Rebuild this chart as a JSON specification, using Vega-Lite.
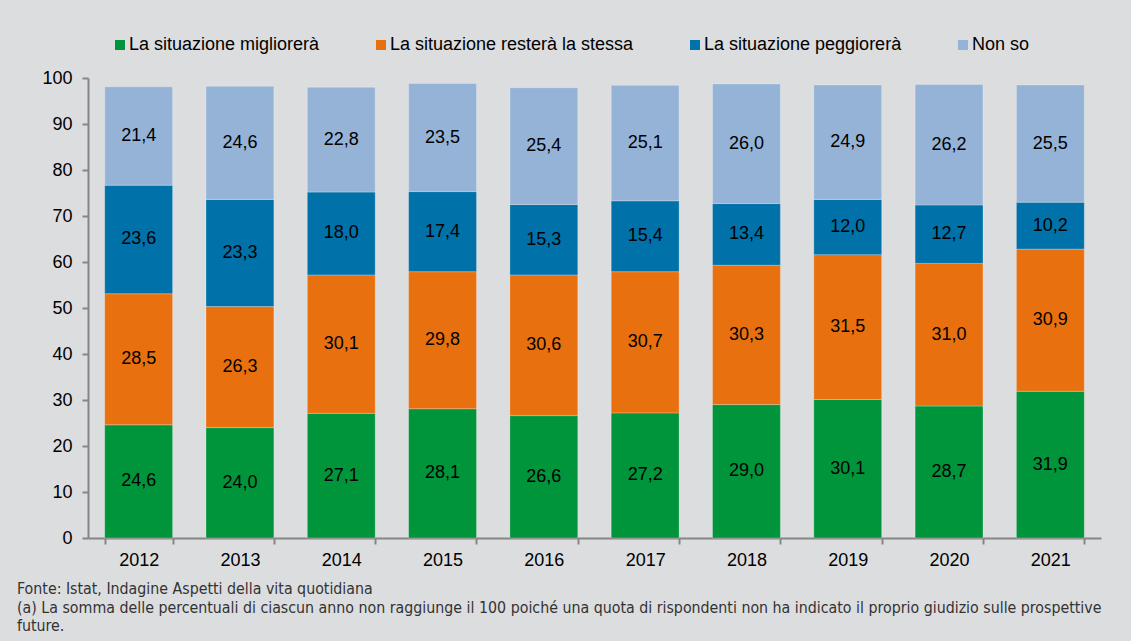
{
  "$schema": "https://vega.github.io/schema/vega-lite/v6.json",
  "width": 1013,
  "height": 460,
  "autosize": {"type": "none"},
  "padding": {"left": 88, "top": 78, "right": 30, "bottom": 103},
  "background": "#DCDDDF",
  "config": {
    "view": {"stroke": null},
    "font": "Liberation Sans",
    "locale": {"number": {"decimal": ",", "thousands": ".", "grouping": [3], "currency": ["", " €"]}}
  },
  "title": {
    "text": [
      "Fonte: Istat, Indagine Aspetti della vita quotidiana",
      "(a) La somma delle percentuali di ciascun anno non raggiunge il 100 poiché una quota di rispondenti non ha indicato il proprio giudizio sulle prospettive",
      "\u00a0\u00a0\u00a0\u00a0\u00a0\u00a0future."
    ],
    "orient": "bottom",
    "anchor": "start",
    "frame": "group",
    "dx": -71,
    "offset": 13,
    "font": "DejaVu Sans Condensed",
    "fontSize": 15.8,
    "fontWeight": "normal",
    "color": "#333333",
    "lineHeight": 18.5
  },
  "data": {
    "values": [
      {"year": "2012", "cat": "La situazione migliorerà", "ord": 1, "value": 24.6},
      {"year": "2012", "cat": "La situazione resterà la stessa", "ord": 2, "value": 28.5},
      {"year": "2012", "cat": "La situazione peggiorerà", "ord": 3, "value": 23.6},
      {"year": "2012", "cat": "Non so", "ord": 4, "value": 21.4},
      {"year": "2013", "cat": "La situazione migliorerà", "ord": 1, "value": 24.0},
      {"year": "2013", "cat": "La situazione resterà la stessa", "ord": 2, "value": 26.3},
      {"year": "2013", "cat": "La situazione peggiorerà", "ord": 3, "value": 23.3},
      {"year": "2013", "cat": "Non so", "ord": 4, "value": 24.6},
      {"year": "2014", "cat": "La situazione migliorerà", "ord": 1, "value": 27.1},
      {"year": "2014", "cat": "La situazione resterà la stessa", "ord": 2, "value": 30.1},
      {"year": "2014", "cat": "La situazione peggiorerà", "ord": 3, "value": 18.0},
      {"year": "2014", "cat": "Non so", "ord": 4, "value": 22.8},
      {"year": "2015", "cat": "La situazione migliorerà", "ord": 1, "value": 28.1},
      {"year": "2015", "cat": "La situazione resterà la stessa", "ord": 2, "value": 29.8},
      {"year": "2015", "cat": "La situazione peggiorerà", "ord": 3, "value": 17.4},
      {"year": "2015", "cat": "Non so", "ord": 4, "value": 23.5},
      {"year": "2016", "cat": "La situazione migliorerà", "ord": 1, "value": 26.6},
      {"year": "2016", "cat": "La situazione resterà la stessa", "ord": 2, "value": 30.6},
      {"year": "2016", "cat": "La situazione peggiorerà", "ord": 3, "value": 15.3},
      {"year": "2016", "cat": "Non so", "ord": 4, "value": 25.4},
      {"year": "2017", "cat": "La situazione migliorerà", "ord": 1, "value": 27.2},
      {"year": "2017", "cat": "La situazione resterà la stessa", "ord": 2, "value": 30.7},
      {"year": "2017", "cat": "La situazione peggiorerà", "ord": 3, "value": 15.4},
      {"year": "2017", "cat": "Non so", "ord": 4, "value": 25.1},
      {"year": "2018", "cat": "La situazione migliorerà", "ord": 1, "value": 29.0},
      {"year": "2018", "cat": "La situazione resterà la stessa", "ord": 2, "value": 30.3},
      {"year": "2018", "cat": "La situazione peggiorerà", "ord": 3, "value": 13.4},
      {"year": "2018", "cat": "Non so", "ord": 4, "value": 26.0},
      {"year": "2019", "cat": "La situazione migliorerà", "ord": 1, "value": 30.1},
      {"year": "2019", "cat": "La situazione resterà la stessa", "ord": 2, "value": 31.5},
      {"year": "2019", "cat": "La situazione peggiorerà", "ord": 3, "value": 12.0},
      {"year": "2019", "cat": "Non so", "ord": 4, "value": 24.9},
      {"year": "2020", "cat": "La situazione migliorerà", "ord": 1, "value": 28.7},
      {"year": "2020", "cat": "La situazione resterà la stessa", "ord": 2, "value": 31.0},
      {"year": "2020", "cat": "La situazione peggiorerà", "ord": 3, "value": 12.7},
      {"year": "2020", "cat": "Non so", "ord": 4, "value": 26.2},
      {"year": "2021", "cat": "La situazione migliorerà", "ord": 1, "value": 31.9},
      {"year": "2021", "cat": "La situazione resterà la stessa", "ord": 2, "value": 30.9},
      {"year": "2021", "cat": "La situazione peggiorerà", "ord": 3, "value": 10.2},
      {"year": "2021", "cat": "Non so", "ord": 4, "value": 25.5}
    ]
  },
  "encoding": {
    "x": {
      "field": "year",
      "type": "nominal",
      "title": null,
      "scale": {"paddingInner": 0.33, "paddingOuter": 0.165},
      "axis": {
        "labelAngle": 0,
        "labelFontSize": 18,
        "labelColor": "#000000",
        "labelPadding": 7,
        "tickBand": "extent",
        "tickSize": 6,
        "tickColor": "#868686",
        "tickWidth": 2,
        "domainColor": "#868686",
        "domainWidth": 2
      }
    },
    "y": {
      "field": "value",
      "type": "quantitative",
      "stack": "zero",
      "title": null,
      "scale": {"domain": [0, 100], "nice": false},
      "axis": {
        "values": [0, 10, 20, 30, 40, 50, 60, 70, 80, 90, 100],
        "grid": false,
        "labelFontSize": 18,
        "labelColor": "#000000",
        "labelPadding": 10,
        "tickSize": 6,
        "tickColor": "#868686",
        "tickWidth": 2,
        "domainColor": "#868686",
        "domainWidth": 2
      }
    },
    "order": {"field": "ord", "type": "quantitative"}
  },
  "layer": [
    {
      "mark": {"type": "bar", "stroke": "#ffffff", "strokeOpacity": 0.25, "strokeWidth": 1},
      "encoding": {
        "color": {
          "field": "cat",
          "type": "nominal",
          "scale": {
            "domain": ["La situazione migliorerà", "La situazione resterà la stessa", "La situazione peggiorerà", "Non so"],
            "range": ["#00953A", "#E8700E", "#0071A9", "#95B3D7"]
          },
          "legend": {
            "title": null,
            "orient": "none",
            "direction": "horizontal",
            "legendX": 23,
            "legendY": -42,
            "symbolType": "square",
            "symbolSize": 100,
            "symbolStrokeWidth": 0,
            "labelFontSize": 18,
            "labelColor": "#000000",
            "labelOffset": 0,
            "labelLimit": 0,
            "columnPadding": 52,
            "padding": 0
          }
        }
      }
    },
    {
      "mark": {"type": "text", "fontSize": 18, "color": "#000000", "baseline": "middle"},
      "encoding": {
        "y": {"field": "value", "type": "quantitative", "stack": "zero", "bandPosition": 0.5},
        "text": {"field": "value", "type": "quantitative", "format": ".1f"}
      }
    }
  ]
}
